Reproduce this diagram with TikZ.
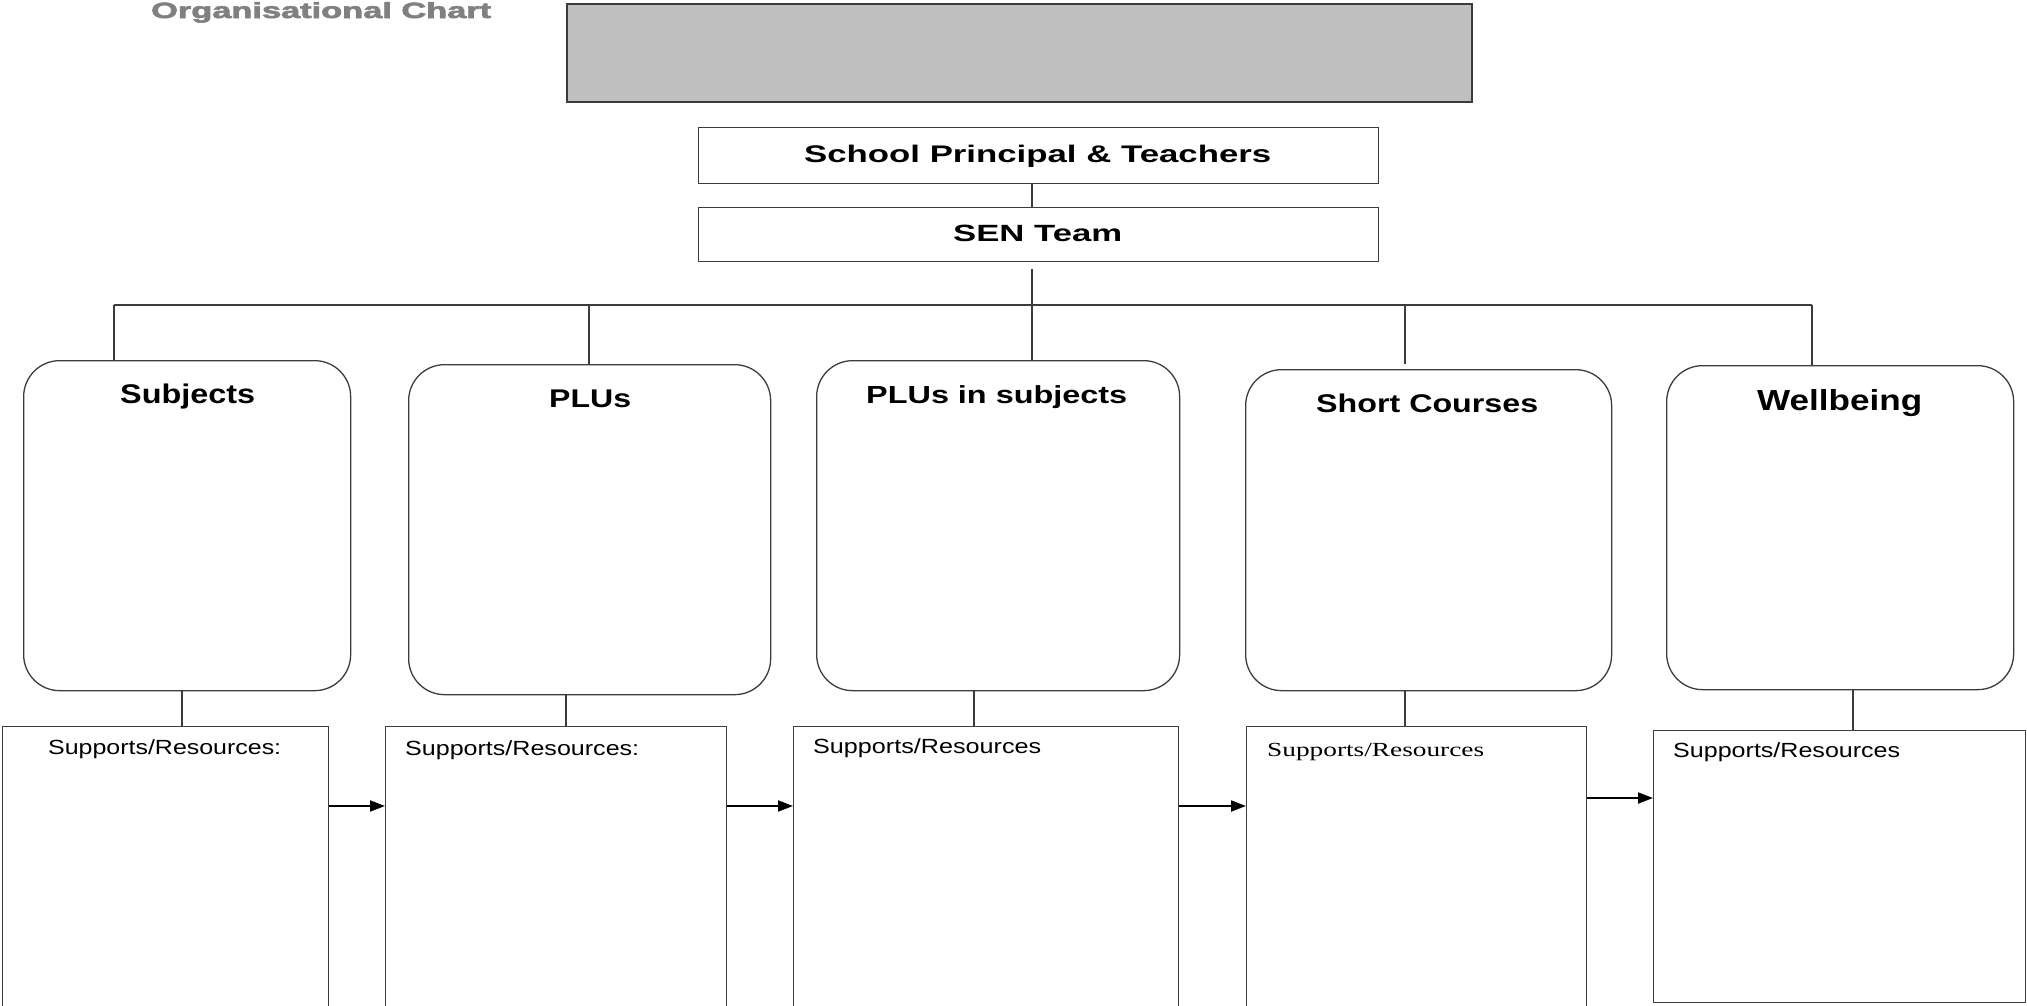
\documentclass[tikz,border=0pt]{standalone}
\usepackage{fontspec}
\setmainfont{Liberation Sans}
\newfontfamily\seriffam{Liberation Serif}
\newfontfamily\heavyfam[FakeBold=2.5]{Liberation Sans Bold}
\usetikzlibrary{arrows.meta,calc}
\definecolor{edge}{RGB}{60,60,60}
\definecolor{titlegrey}{RGB}{128,128,128}
\definecolor{bandgrey}{RGB}{191,191,191}
\newcommand{\fitx}[3]{\fontsize{#2}{#2}\selectfont\resizebox{#1pt}{\height}{#3}}
\begin{document}
\begin{tikzpicture}[x=1pt,y=-1pt,
  box/.style={draw=edge,line width=1.3pt,rectangle,inner sep=0pt,anchor=north west},
  rbox/.style={box,rounded corners=36pt},
  txt/.style={inner sep=0pt,anchor=base west},
  link/.style={draw=edge,line width=1.3pt},
  arr/.style={draw=black,line width=2pt,-{Triangle[length=15pt,width=11pt]}}]
\useasboundingbox (0,0) rectangle (2027,1005);
\clip (0,0) rectangle (2027,1005);

% title and band
\node[txt,text=titlegrey] (title) at (151,18) {\fitx{340}{22}{\heavyfam Organisational Chart}};
\node[box,fill=bandgrey,draw=edge,line width=1.5pt,minimum width=905pt,minimum height=98pt] (band) at (566,3) {};

% top boxes
\node[box,minimum width=680pt,minimum height=56pt] (prin) at (698,127) {};
\node[txt] (prinT) at (804,162) {\fitx{467}{24}{\bfseries School Principal \& Teachers}};
\node[box,minimum width=680pt,minimum height=54pt] (sen) at (698,207) {};
\node[txt] (senT) at (953,241) {\fitx{169}{23.5}{\bfseries SEN Team}};

% rounded boxes
\node[rbox,minimum width=327pt,minimum height=330pt] (subj) at (23,360) {};
\node[rbox,minimum width=362pt,minimum height=330pt] (plus) at (408,364) {};
\node[rbox,minimum width=363pt,minimum height=330pt] (pis) at (816,360) {};
\node[rbox,minimum width=366pt,minimum height=321pt] (short) at (1245,369) {};
\node[rbox,minimum width=347pt,minimum height=324pt] (well) at (1666,365) {};
\node[txt] (subjT) at (120,403) {\fitx{135}{27}{\bfseries Subjects}};
\node[txt] (plusT) at (549,407) {\fitx{82}{25.6}{\bfseries PLUs}};
\node[txt] (pisT) at (866,403) {\fitx{261}{24.7}{\bfseries PLUs in subjects}};
\node[txt] (shortT) at (1316,412) {\fitx{222}{25.6}{\bfseries Short Courses}};
\node[txt] (wellT) at (1757,410) {\fitx{165}{29}{\bfseries Wellbeing}};

% supports boxes
\node[box,minimum width=326pt,minimum height=300pt] (sup1) at (2,726) {};
\node[box,minimum width=341pt,minimum height=300pt] (sup2) at (385,726) {};
\node[box,minimum width=385pt,minimum height=300pt] (sup3) at (793,726) {};
\node[box,minimum width=340pt,minimum height=300pt] (sup4) at (1246,726) {};
\node[box,minimum width=372pt,minimum height=272pt] (sup5) at (1653,730) {};
\node[txt] (sup1T) at (48,754) {\fitx{233}{20.5}{Supports/Resources:}};
\node[txt] (sup2T) at (405,755) {\fitx{234}{20.5}{Supports/Resources:}};
\node[txt] (sup3T) at (813,753) {\fitx{228}{20.5}{Supports/Resources}};
\node[txt] (sup4T) at (1267,756) {\fitx{217}{20}{\seriffam Supports/Resources}};
\node[txt] (sup5T) at (1673,757) {\fitx{227}{20.5}{Supports/Resources}};

% hierarchy connectors
\coordinate (cx) at (1032,0);
\draw[link] (prin.south -| cx) -- (sen.north -| cx);
\draw[link] ($(sen.south -| cx)+(0,7)$) -- (pis.north -| cx);
\coordinate (hl) at (114,305);
\coordinate (hr) at (1812,305);
\coordinate (h2) at (589,305);
\coordinate (h4) at (1405,305);
\draw[link] (hl) -- (hr);
\draw[link] (hl) -- (hl |- subj.north);
\draw[link] (h2) -- (h2 |- plus.north);
\draw[link] (h4) -- ($(h4 |- short.north)+(0,-5)$);
\draw[link] (hr) -- (hr |- well.north);

% down connectors
\coordinate (v1) at (182,0);
\coordinate (v2) at (566,0);
\coordinate (v3) at (974,0);
\coordinate (v4) at (1405,0);
\coordinate (v5) at (1853,0);
\draw[link] (subj.south -| v1) -- (sup1.north -| v1);
\draw[link] (plus.south -| v2) -- (sup2.north -| v2);
\draw[link] (pis.south -| v3) -- (sup3.north -| v3);
\draw[link] (short.south -| v4) -- (sup4.north -| v4);
\draw[link] (well.south -| v5) -- (sup5.north -| v5);

% arrows
\coordinate (ya) at (0,806);
\coordinate (yb) at (0,798);
\draw[arr] (sup1.east |- ya) -- (sup2.west |- ya);
\draw[arr] (sup2.east |- ya) -- (sup3.west |- ya);
\draw[arr] (sup3.east |- ya) -- (sup4.west |- ya);
\draw[arr] (sup4.east |- yb) -- (sup5.west |- yb);
\end{tikzpicture}
\end{document}
